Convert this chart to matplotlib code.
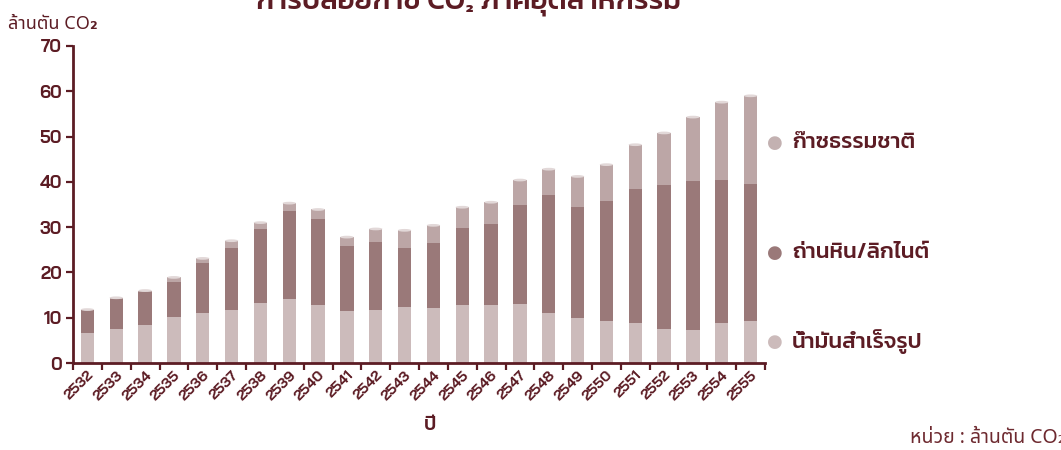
import matplotlib
matplotlib.use("Agg")
import matplotlib.pyplot as plt
import numpy as np
from matplotlib.patches import Ellipse

# ปริมาณการปล่อย CO2 ภาคอุตสาหกรรม (ล้านตัน)
years = ['2532', '2533', '2534', '2535', '2536', '2537', '2538', '2539', '2540', '2541', '2542', '2543',
         '2544', '2545', '2546', '2547', '2548', '2549', '2550', '2551', '2552', '2553', '2554', '2555']
oil = [6.7, 7.6, 8.4, 10.2, 11.1, 11.7, 13.3, 14.2, 12.8, 11.5, 11.7, 12.4,
       12.2, 12.8, 12.8, 13.0, 11.1, 9.9, 9.3, 8.8, 7.6, 7.3, 8.8, 9.3]
coal_top = [11.6, 14.2, 15.6, 17.9, 22.1, 25.5, 29.5, 33.5, 31.7, 25.8, 26.8, 25.3,
            26.4, 29.9, 30.6, 35.0, 37.0, 34.4, 35.7, 38.5, 39.3, 40.1, 40.4, 39.6]
total = [11.8, 14.4, 16.0, 18.9, 23.1, 27.0, 31.0, 35.3, 33.9, 27.8, 29.6, 29.3,
         30.4, 34.4, 35.5, 40.4, 42.8, 41.2, 43.8, 48.2, 50.8, 54.3, 57.6, 59.0]
coal = [c - o for c, o in zip(coal_top, oil)]
gas = [t - c for t, c in zip(total, coal_top)]
labels = ['ก๊าซธรรมชาติ', 'ถ่านหิน/ลิกไนต์', 'น้ำมันสำเร็จรูป']

dark = '#5c1c24'
c_oil, c_coal, c_gas = '#ccbbbb', '#9a7979', '#bca6a6'
thai = ['Noto Sans Thai', 'DejaVu Sans']
thai_b = ['Kanit', 'DejaVu Sans']
num = ['Bai Jamjuree', 'DejaVu Sans']

fig = plt.figure(figsize=(10.61, 4.5), dpi=100)
ax = fig.add_axes([73 / 1061, 1 - 363 / 450, (765 - 73) / 1061, (363 - 46) / 450])

x = np.arange(len(years))
w = 0.46
ax.bar(x, oil, w, color=c_oil, zorder=2)
ax.bar(x, coal, w, bottom=oil, color=c_coal, zorder=2)
ax.bar(x, gas, w, bottom=coal_top, color=c_gas, zorder=2)
for xi, t in zip(x, total):
    ax.add_patch(Ellipse((xi, t), w, 0.6, color='#e2d8d8', zorder=3, lw=0))

ax.set_xlim(-0.5, len(years) - 0.5)
ax.set_ylim(0, 70)
ax.set_yticks(range(0, 71, 10))
ax.set_xticks(np.arange(-0.5, len(years)), [''] * (len(years) + 1))
ax.set_xticks(x, years, minor=True)
ax.tick_params(axis='x', which='major', direction='out', length=5, width=1.6, color=dark)
ax.tick_params(axis='x', which='minor', length=0, pad=4)
ax.tick_params(axis='y', direction='out', length=5, width=1.6, color=dark, pad=3)
for lab in ax.get_xticklabels(minor=True):
    lab.set_rotation(45)
    lab.set_ha('right')
    lab.set_rotation_mode('anchor')
    lab.set_fontfamily(num)
    lab.set_fontweight('bold')
    lab.set_fontsize(10.5)
    lab.set_color(dark)
for lab in ax.get_yticklabels():
    lab.set_fontfamily(num)
    lab.set_fontweight('bold')
    lab.set_fontsize(12.5)
    lab.set_color(dark)
for s in ['top', 'right']:
    ax.spines[s].set_visible(False)
for s in ['left', 'bottom']:
    ax.spines[s].set_color(dark)
    ax.spines[s].set_linewidth(2)

# legend on the right
for lab, col, yy in zip(labels, ['#c3b1b1', c_coal, c_oil], [143, 253, 342]):
    fig.text(775 / 1061, 1 - yy / 450, '●', color=col, fontsize=13, ha='center', va='center',
             family=['DejaVu Sans'])
    fig.text(792 / 1061, 1 - yy / 450, lab, color=dark, fontsize=16, fontweight='medium',
             va='center', family=thai_b)

fig.text(469 / 1061, 1 - 9 / 450, 'การปล่อยก๊าซ CO₂ ภาคอุตสาหกรรม', color=dark, fontsize=21,
         fontweight='medium', ha='center', va='baseline', family=thai_b)
fig.text(8 / 1061, 1 - 24 / 450, 'ล้านตัน CO₂', color=dark, fontsize=13, fontweight='bold',
         va='center', family=thai)
fig.text(430 / 1061, 1 - 425 / 450, 'ปี', color=dark, fontsize=14, fontweight='medium',
         ha='center', va='center', family=thai_b)
fig.text(1066 / 1061, 1 - 438 / 450, 'หน่วย : ล้านตัน CO₂', color='#6e2a30', fontsize=14,
         ha='right', va='center', family=thai)

fig.savefig('out.png', dpi=100)
